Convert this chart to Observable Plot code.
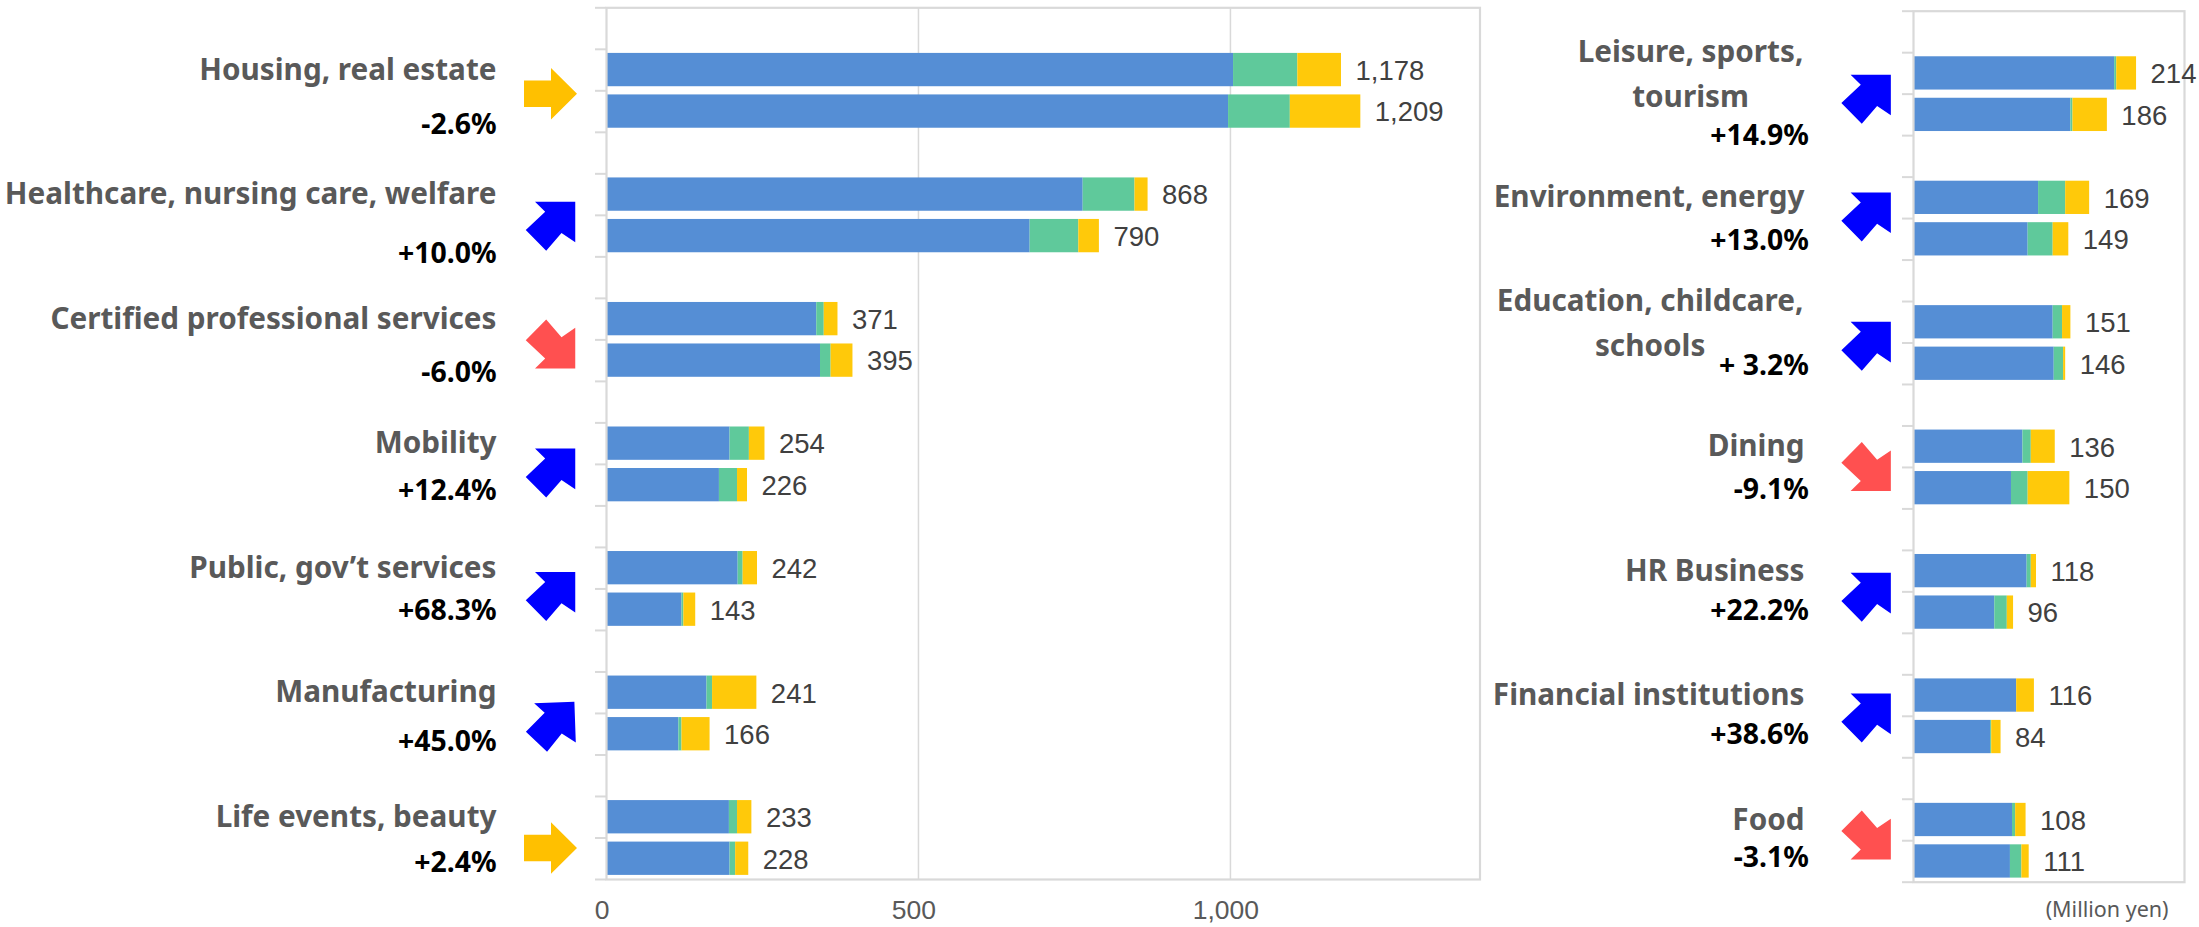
<!DOCTYPE html>
<html>
<head>
<meta charset="utf-8">
<script src="https://cdn.jsdelivr.net/npm/d3@7"></script>
<script src="https://cdn.jsdelivr.net/npm/@observablehq/plot@0.6"></script>
<style>
  html, body { margin: 0; padding: 0; background: #fff; overflow: hidden; }
  #chart { position: relative; width: 2199px; height: 927px; }
  #chart svg { position: absolute; top: 0; background: transparent; }
</style>
</head>
<body>
<div id="chart"></div>
<script>
// Market size by sector, in million yen. Each sector has two bars: latest year, then previous year.
const leftSectors = ["Housing, real estate", "Healthcare, nursing care, welfare", "Certified professional services", "Mobility", "Public, gov’t services", "Manufacturing", "Life events, beauty"];
const leftChange = ["-2.6%", "+10.0%", "-6.0%", "+12.4%", "+68.3%", "+45.0%", "+2.4%"];
const leftTrend = ["flat", "up", "down", "up", "up", "upTilted", "flat"];
const leftTotal = [1178, 1209, 868, 790, 371, 395, 254, 226, 242, 143, 241, 166, 233, 228];
const leftMain = [1005, 997, 764, 679, 337, 343, 198, 181, 211, 121, 161, 116, 197, 198];
const leftMiddle = [103, 99, 83, 78, 12, 17, 31, 29, 8, 3, 9, 5, 13, 9];
const leftEnd = [70, 113, 21, 33, 22, 35, 25, 16, 23, 19, 71, 45, 23, 21];

const rightSectors = ["Leisure, sports,\ntourism", "Environment, energy", "Education, childcare,\nschools", "Dining", "HR Business", "Financial institutions", "Food"];
const rightChange = ["+14.9%", "+13.0%", "+ 3.2%", "-9.1%", "+22.2%", "+38.6%", "-3.1%"];
const rightTrend = ["up", "up", "up", "down", "up", "up", "down"];
const rightTotal = [214, 186, 169, 149, 151, 146, 136, 150, 118, 96, 116, 84, 108, 111];
const rightMain = [193, 151, 120, 110, 134, 135, 105, 94, 109, 78, 99, 74, 95, 93];
const rightMiddle = [2, 2, 26, 24, 9, 9, 8, 16, 4, 12, 0, 1, 3, 11];
const rightEnd = [19, 33, 23, 15, 8, 2, 23, 40, 5, 6, 17, 9, 10, 7];

const segments = ["main", "middle", "end"];
const xTicks = [0, 500, 1000];

// Vertical placement of the annotations beside each sector, in row units of the y scale.
const leftChangeRow = [2.81, 5.92, 8.80, 11.65, 14.54, 17.68, 20.61];
const leftArrowRow = [2.07, 5.26, 8.10, 11.21, 14.18, 17.33, 20.24];
const rightChangeRow = [3.0, 5.54, 8.54, 11.54, 14.45, 17.44, 20.42];
const rightArrowRow = [2.12, 4.96, 8.08, 10.98, 14.13, 17.04, 19.86];

const GRID = "#d9d9d9";
const LABEL = "#595959";
const VALUE = "#404040";
const LABEL_FONT = "'Noto Sans', sans-serif";
const VALUE_FONT = "'Liberation Sans', Arial, sans-serif";

// Block arrows as custom dot symbols, drawn from their centre.
function polygonSymbol(points) {
  return {
    draw(context) {
      points.forEach(([x, y], i) => (i ? context.lineTo(x, y) : context.moveTo(x, y)));
      context.closePath();
    }
  };
}
const flatPoints = [[-26.5, -13.3], [0.5, -13.3], [0.5, -25.8], [26.5, 0], [0.5, 25.8], [0.5, 13.3], [-26.5, 13.3]];
const upPoints = [[-15.5, -24.5], [24.75, -24.5], [24.75, 16.2], [11, 6.8], [-4.3, 24.5], [-24.75, 3.8], [-5.3, -14.5]];
const downPoints = upPoints.map(([x, y]) => [x, -y]);
const tilt = -2 * Math.PI / 180;
const tiltedPoints = upPoints.map(([x, y]) => [x * Math.cos(tilt) - y * Math.sin(tilt), x * Math.sin(tilt) + y * Math.cos(tilt)]);
const arrowStyles = {
  flat: {symbol: polygonSymbol(flatPoints), fill: "#ffc000"},
  up: {symbol: polygonSymbol(upPoints), fill: "#0000ff"},
  upTilted: {symbol: polygonSymbol(tiltedPoints), fill: "#0000ff"},
  down: {symbol: polygonSymbol(downPoints), fill: "#ff5050"}
};

// Bars take rows 1 and 2 of every three; the first row of each sector stays empty.
function barRows(main, middle, end) {
  return [main, middle, end].flatMap((values, s) =>
    values.map((value, k) => ({row: k + Math.floor(k / 2) + 1, segment: segments[s], value}))
  );
}

function sectorPanel({sectors, change, trend, total, main, middle, end, changeRow, arrowRow, layout, extraMarks}) {
  const sectorData = sectors.map((name, i) => ({
    name, change: change[i], trend: trend[i], changeRow: changeRow[i], arrowRow: arrowRow[i], labelRow: 3 * i + 1.5
  }));
  const single = sectorData.filter((d) => !d.name.includes("\n"));
  const wrapped = sectorData.filter((d) => d.name.includes("\n"));
  return Plot.plot({
    width: layout.width,
    height: 927,
    marginLeft: layout.marginLeft,
    marginRight: layout.marginRight,
    marginTop: layout.marginTop,
    marginBottom: layout.marginBottom,
    style: {background: "transparent"},
    x: {domain: layout.xDomain, axis: null},
    y: {domain: [21, 0], axis: null},
    color: {domain: segments, range: ["#558ed5", "#5fc99b", "#ffc90a"]},
    marks: [
      ...(extraMarks?.under ?? []),
      Plot.rectX(barRows(main, middle, end), Plot.stackX({
        y: "row", x: "value", interval: 1, fill: "segment", insetTop: 4.1, insetBottom: 4.1, order: null
      })),
      Plot.frame({stroke: GRID, strokeWidth: 2.2}),
      Plot.axisY({ticks: d3.range(22), tickSize: 11, stroke: GRID, strokeWidth: 2, tickFormat: () => "", label: null}),
      Plot.text(total, {
        x: (d) => d, y: (d, k) => k + Math.floor(k / 2) + 1.5, text: d3.format(","),
        dx: 14, dy: 1, textAnchor: "start", fontSize: 27.5, fontFamily: VALUE_FONT, fill: VALUE
      }),
      Plot.text(single, {
        x: () => 0, y: "labelRow", text: "name", dx: layout.labelDx, textAnchor: "end",
        fontSize: layout.labelSize, fontWeight: 700, fontFamily: LABEL_FONT, fill: LABEL
      }),
      ...wrapped.map((d) => Plot.text([d], {
        x: () => 0, y: "labelRow", text: "name", dx: layout.wrappedDx[d.name], dy: -3, textAnchor: "middle", lineHeight: 1.52,
        fontSize: layout.labelSize, fontWeight: 700, fontFamily: LABEL_FONT, fill: LABEL
      })),
      Plot.text(sectorData, {
        x: () => 0, y: "changeRow", text: "change", dx: layout.changeDx, textAnchor: "end",
        fontSize: layout.changeSize, fontWeight: 700, fontFamily: LABEL_FONT, fill: "#000"
      }),
      ...Object.entries(arrowStyles).map(([key, style]) => Plot.dot(sectorData.filter((d) => d.trend === key), {
        x: () => 0, y: "arrowRow", dx: layout.arrowDx, stroke: "none", ...style
      })),
      ...(extraMarks?.over ?? [])
    ]
  });
}

const leftPanel = sectorPanel({
  sectors: leftSectors, change: leftChange, trend: leftTrend, total: leftTotal,
  main: leftMain, middle: leftMiddle, end: leftEnd, changeRow: leftChangeRow, arrowRow: leftArrowRow,
  layout: {
    width: 1490, marginLeft: 606, marginRight: 10.5, marginTop: 7.3, marginBottom: 48,
    xDomain: [0, 1400], labelDx: -110, changeDx: -110, arrowDx: -56, labelSize: 29.7, changeSize: 28.4
  },
  extraMarks: {
    under: [Plot.gridX({ticks: xTicks.slice(1), stroke: GRID, strokeOpacity: 1, strokeWidth: 1.5})],
    over: [
      Plot.axisX({
        ticks: xTicks, dx: -4.5, dy: 21, tickSize: 0, tickPadding: 0, fontSize: 26.5, fontFamily: VALUE_FONT,
        fill: LABEL, label: null, tickFormat: d3.format(",d")
      })
    ]
  }
});
leftPanel.style.left = "0px";

const rightPanel = sectorPanel({
  sectors: rightSectors, change: rightChange, trend: rightTrend, total: rightTotal,
  main: rightMain, middle: rightMiddle, end: rightEnd, changeRow: rightChangeRow, arrowRow: rightArrowRow,
  layout: {
    width: 709, marginLeft: 423, marginRight: 15, marginTop: 10.7, marginBottom: 45.3,
    xDomain: [0, 260], labelDx: -109, changeDx: -104.7, arrowDx: -47.4, labelSize: 29.7, changeSize: 28.4,
    wrappedDx: {"Leisure, sports,\ntourism": -223, "Education, childcare,\nschools": -263.4}
  },
  extraMarks: {
    over: [Plot.text(["(Million yen)"], {
      frameAnchor: "bottom-right", text: (d) => d, dx: -16, dy: 35,
      fontSize: 21.5, fontFamily: LABEL_FONT, fill: LABEL
    })]
  }
});
rightPanel.style.left = "1490px";

document.getElementById("chart").append(leftPanel, rightPanel);
</script>
</body>
</html>
